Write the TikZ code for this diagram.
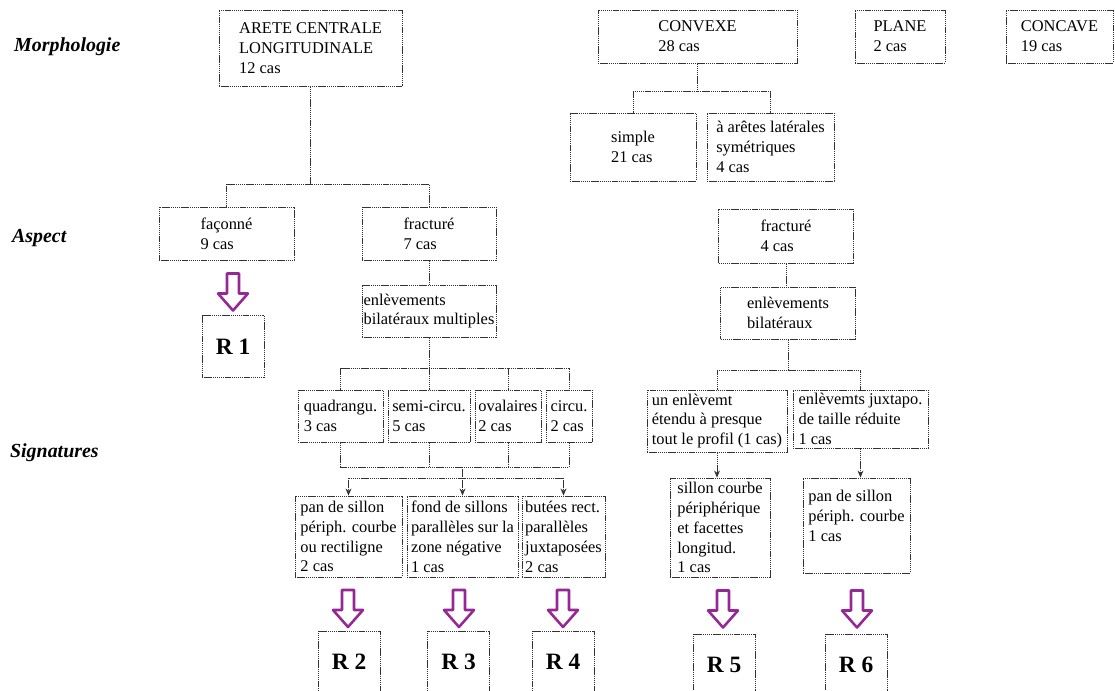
\documentclass[tikz,border=0pt]{standalone}
\usepackage{fontspec}
\setmainfont{Liberation Serif}
\usetikzlibrary{arrows.meta}
\definecolor{flechepourpre}{RGB}{150,40,150}
\begin{document}
\begin{tikzpicture}[x=0.03cm, y=-0.03cm,
  trait/.style = {draw=black!80, line width=0.75pt, dash pattern=on 1.2pt off 0.6pt},
  box/.style 2 args = {trait, align=left, inner sep=1pt,
    font=\fontsize{14}{17}\selectfont,
    minimum width=#1*0.03cm, minimum height=#2*0.03cm},
  rbox/.style = {trait, minimum width=62*0.03cm, minimum height=62*0.03cm,
    font=\fontsize{20}{20}\selectfont\bfseries},
  niveau/.style = {anchor=west, font=\fontsize{17}{17}\selectfont\bfseries\itshape},
  pointe/.style = {-{Stealth[length=6pt,width=5pt]}},
  fleche/.pic = {
    \draw[flechepourpre, fill=white, line width=2.2pt, line join=round]
      (-6,-19) -- (6,-19) -- (6,1) -- (15,1) -- (0,18) -- (-15,1) -- (-6,1) -- cycle;
  }]
  \useasboundingbox (0,0) rectangle (1115,690);

  \node[niveau] (morpho) at (10,47)  {Morphologie};
  \node[niveau] (aspect) at (8,238)  {Aspect};
  \node[niveau] (signat) at (6,453)  {Signatures};

  \node[box={183}{76}] (arete)   at (310.5,48)  {ARETE CENTRALE\\LONGITUDINALE\\12 cas};
  \node[box={199}{53}] (convexe) at (697.5,36.5) {CONVEXE\\28 cas};
  \node[box={90}{53}]  (plane)   at (900,36.5)   {PLANE\\2 cas};
  \node[box={107}{53}] (concave) at (1059.5,36.5) {CONCAVE\\19 cas};

  \node[box={126}{68}] (simple)  at (633,147)   {simple\\21 cas};
  \node[box={127}{68}] (aretes)  at (770.5,147) {à arêtes latérales\\symétriques\\4 cas};

  \node[box={135}{53}] (faconne) at (226.5,233.5) {façonné\\9 cas};
  \node[box={134}{53}] (fract7)  at (429,233.5)   {fracturé\\7 cas};
  \node[box={134}{52}] (enlmult) at (429,311)     {enlèvements\\bilatéraux multiples};
  \node[box={135}{54}] (fract4)  at (786,236)     {fracturé\\4 cas};
  \node[box={135}{52}] (enlbil)  at (788,313)     {enlèvements\\bilatéraux};

  \node[box={85}{52}]  (quad) at (340.5,416) {quadrangu.\\3 cas};
  \node[box={82}{52}]  (semi) at (429,416)   {semi-circu.\\5 cas};
  \node[box={66}{52}]  (oval) at (508,416)   {ovalaires\\2 cas};
  \node[box={46}{52}]  (circ) at (569,416)   {circu.\\2 cas};
  \node[box={140}{62}] (unenl) at (717,421)  {un enlèvemt\\étendu à presque\\tout le profil (1 cas)};
  \node[box={135}{58}] (juxta) at (860.5,419) {enlèvemts juxtapo.\\de taille réduite\\1 cas};

  \node[box={107}{81}] (pan1)   at (348.5,536.5) {pan de sillon\\périph. courbe\\ou rectiligne\\2 cas};
  \node[box={111}{81}] (fond)   at (462.5,536.5) {fond de sillons\\parallèles sur la\\zone négative\\1 cas};
  \node[box={83}{81}]  (butees) at (563.5,536.5) {butées rect.\\parallèles\\juxtaposées\\2 cas};
  \node[box={100}{99}] (sillon) at (720,527.5)   {sillon courbe\\périphérique\\et facettes\\longitud.\\1 cas};
  \node[box={107}{95}] (pan2)   at (856.5,525.5) {pan de sillon\\périph. courbe\\1 cas\\~};

  \node[rbox] (r1) at (233,346.5) {R 1};
  \node[rbox] (r2) at (349,662)   {R 2};
  \node[rbox] (r3) at (458.5,662) {R 3};
  \node[rbox] (r4) at (563,662)   {R 4};
  \node[rbox] (r5) at (724,665)   {R 5};
  \node[rbox] (r6) at (856,665)   {R 6};

  \pic at (233,292.5) {fleche};
  \pic at (348,609)   {fleche};
  \pic at (459,609)   {fleche};
  \pic at (563,609)   {fleche};
  \pic at (723,609.5) {fleche};
  \pic at (857,609.5) {fleche};

  \coordinate (yA) at (0,184);
  \coordinate (yB) at (0,91);
  \coordinate (yC) at (0,368);
  \coordinate (yD) at (0,467);
  \coordinate (yE) at (0,478);
  \coordinate (yF) at (0,370);

  \draw[trait] (arete.south) -- (arete.south |- yA);
  \draw[trait] (faconne.north) |- (fract7.north |- yA) -- (fract7.north);
  \draw[trait] (convexe.south) -- (convexe.south |- yB);
  \draw[trait] (simple.north) |- (aretes.north |- yB) -- (aretes.north);

  \draw[trait] (fract7.south) -- (enlmult.north);
  \draw[trait] (enlmult.south) -- (enlmult.south |- yC);
  \draw[trait] (quad.north) |- (circ.north |- yC) -- (circ.north);
  \draw[trait] (semi.north) -- (semi.north |- yC);
  \draw[trait] (oval.north) -- (oval.north |- yC);

  \draw[trait] (quad.south) |- (circ.south |- yD) -- (circ.south);
  \draw[trait] (semi.south) -- (semi.south |- yD);
  \draw[trait] (oval.south) -- (oval.south |- yD);
  \draw[trait] (fond.north |- yD) -- (fond.north |- yE);
  \draw[trait] (pan1.north |- yE) -- (butees.north |- yE);
  \draw[trait, pointe] (pan1.north |- yE) -- (pan1.north);
  \draw[trait, pointe] (fond.north |- yE) -- (fond.north);
  \draw[trait, pointe] (butees.north |- yE) -- (butees.north);

  \draw[trait] (fract4.south) -- (fract4.south |- enlbil.north);
  \draw[trait] (enlbil.south) -- (enlbil.south |- yF);
  \draw[trait] (unenl.north) |- (juxta.north |- yF) -- (juxta.north);
  \draw[trait, pointe] (unenl.south) -- (unenl.south |- sillon.north);
  \draw[trait, pointe] (juxta.south) -- (juxta.south |- pan2.north);
\end{tikzpicture}
\end{document}
